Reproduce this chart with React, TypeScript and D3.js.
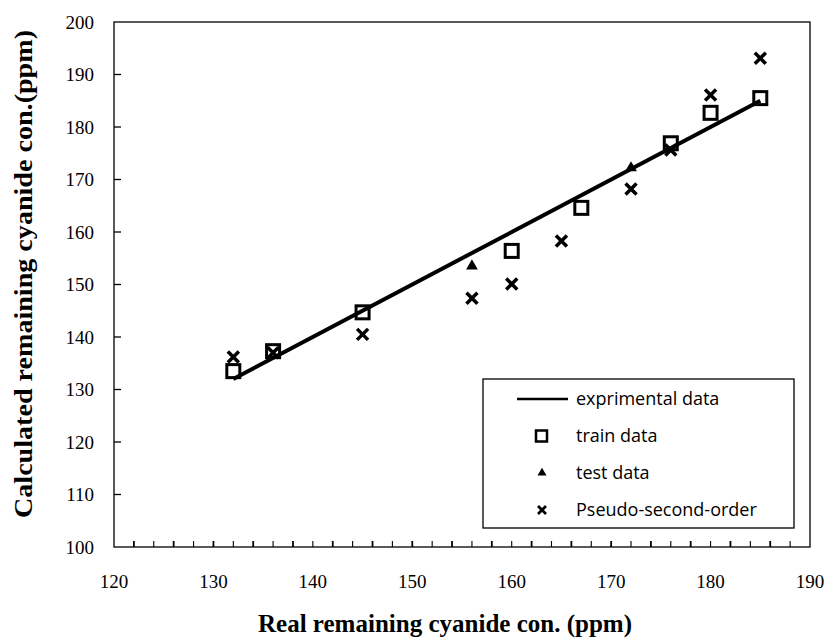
import { useRef, useEffect } from 'react';
import * as d3 from 'd3';

const trainX = [132, 136, 145, 160, 167, 176, 180, 185];
const trainY = [133.5, 137.3, 144.7, 156.4, 164.6, 176.9, 182.7, 185.5];
const testX = [156, 172];
const testY = [153.5, 172.2];
const pseudoX = [132, 136, 145, 156, 160, 165, 172, 176, 180, 185];
const pseudoY = [136.2, 137, 140.5, 147.4, 150.1, 158.3, 168.2, 175.6, 186.1, 193.1];
const lineX = [132, 185];
const lineY = [132, 185];
const xTicks = [120, 130, 140, 150, 160, 170, 180, 190];
const yTicks = [100, 110, 120, 130, 140, 150, 160, 170, 180, 190, 200];
const legendLabels = ['exprimental data', 'train data', 'test data', 'Pseudo-second-order'];

export default function App() {
  const svgRef = useRef<SVGSVGElement | null>(null);

  useEffect(() => {
    if (!svgRef.current) return;
    const svg = d3.select(svgRef.current);
    svg.selectAll('*').remove();

    const width = 828;
    const height = 638;
    const margin = { top: 22, right: 18, bottom: 91, left: 114 };

    const x = d3.scaleLinear().domain([120, 190]).range([margin.left, width - margin.right]);
    const y = d3.scaleLinear().domain([100, 200]).range([height - margin.bottom, margin.top]);

    svg.append('rect').attr('width', width).attr('height', height).attr('fill', '#fff');

    // frame
    svg.append('rect')
      .attr('x', x(120)).attr('y', y(200))
      .attr('width', x(190) - x(120)).attr('height', y(100) - y(200))
      .attr('fill', 'none').attr('stroke', '#000').attr('stroke-width', 1.3);

    // x ticks (inside, every 2)
    const xMinor = d3.range(122, 190, 2);
    svg.append('g').selectAll('line').data(xMinor).join('line')
      .attr('x1', d => x(d)).attr('x2', d => x(d))
      .attr('y1', y(100)).attr('y2', y(100) - 6)
      .attr('stroke', '#000').attr('stroke-width', d => (d % 4 === 2 ? 1.8 : 1.1));

    svg.append('g').selectAll('text').data(xTicks).join('text')
      .attr('x', d => x(d)).attr('y', y(100) + 41)
      .attr('text-anchor', 'middle')
      .attr('font-family', 'Liberation Serif, serif').attr('font-size', 19)
      .text(d => d);

    // y ticks
    svg.append('g').selectAll('line').data(yTicks.slice(1, -1)).join('line')
      .attr('x1', x(120)).attr('x2', x(120) + 7)
      .attr('y1', d => y(d)).attr('y2', d => y(d))
      .attr('stroke', '#000').attr('stroke-width', 1.3);

    svg.append('g').selectAll('text').data(yTicks).join('text')
      .attr('x', x(120) - 20).attr('y', d => y(d)).attr('dy', '0.35em')
      .attr('text-anchor', 'end')
      .attr('font-family', 'Liberation Serif, serif').attr('font-size', 19)
      .text(d => d);

    // axis titles
    svg.append('text')
      .attr('x', 445).attr('y', 632)
      .attr('text-anchor', 'middle')
      .attr('font-family', 'Liberation Serif, serif').attr('font-weight', 'bold').attr('font-size', 25)
      .attr('textLength', 374).attr('lengthAdjust', 'spacingAndGlyphs')
      .text('Real remaining cyanide con. (ppm)');

    svg.append('text')
      .attr('transform', `translate(32,${274}) rotate(-90)`)
      .attr('text-anchor', 'middle')
      .attr('font-family', 'Liberation Serif, serif').attr('font-weight', 'bold').attr('font-size', 26)
      .attr('textLength', 488).attr('lengthAdjust', 'spacingAndGlyphs')
      .text('Calculated remaining cyanide con.(ppm)');

    // experimental line
    const line = d3.line<number>().x((d, i) => x(lineX[i])).y((d, i) => y(lineY[i]));
    svg.append('path').attr('d', line(lineX)).attr('stroke', '#000').attr('stroke-width', 4).attr('fill', 'none');

    const plot = svg.append('g');

    // train squares
    plot.selectAll('.sq').data(trainX).join('rect')
      .attr('x', (d) => x(d) - 6.5).attr('y', (d, i) => y(trainY[i]) - 6.5)
      .attr('width', 13).attr('height', 13)
      .attr('fill', 'none').attr('stroke', '#000').attr('stroke-width', 3);

    // test triangles
    const tri = d3.symbol().type(d3.symbolTriangle).size(60);
    plot.selectAll('.tri').data(testX).join('path')
      .attr('transform', (d, i) => `translate(${x(d)},${y(testY[i])})`)
      .attr('d', tri()).attr('fill', '#000');

    // pseudo crosses
    const cross = (cx: number, cy: number, r: number) => `M${cx - r},${cy - r}L${cx + r},${cy + r}M${cx - r},${cy + r}L${cx + r},${cy - r}`;
    plot.selectAll('.x').data(pseudoX).join('path')
      .attr('d', (d, i) => cross(x(d), y(pseudoY[i]), 5.5))
      .attr('stroke', '#000').attr('stroke-width', 3.5).attr('fill', 'none');

    // legend
    const lg = svg.append('g');
    lg.append('rect').attr('x', 483).attr('y', 379).attr('width', 311).attr('height', 149)
      .attr('fill', '#fff').attr('stroke', '#000').attr('stroke-width', 1.3);
    const rowY = [399, 436, 473, 510];
    lg.selectAll('text').data(legendLabels).join('text')
      .attr('x', 576).attr('y', (d, i) => rowY[i]).attr('dy', '0.35em')
      .attr('font-family', 'Open Sans, sans-serif').attr('font-size', 18)
      .text(d => d);
    lg.append('line').attr('x1', 517).attr('x2', 568).attr('y1', rowY[0]).attr('y2', rowY[0])
      .attr('stroke', '#000').attr('stroke-width', 2.5);
    lg.append('rect').attr('x', 536).attr('y', rowY[1] - 5.5).attr('width', 11).attr('height', 11)
      .attr('fill', 'none').attr('stroke', '#000').attr('stroke-width', 2.5);
    lg.append('path').attr('transform', `translate(542,${rowY[2]})`)
      .attr('d', d3.symbol().type(d3.symbolTriangle).size(35)()).attr('fill', '#000');
    lg.append('path').attr('d', cross(542, rowY[3], 4)).attr('stroke', '#000').attr('stroke-width', 2.8);
  }, []);

  return (
    <div style={{ position: 'absolute', left: 0, top: 0 }}>
      <svg ref={svgRef} width={828} height={638} style={{ display: 'block' }} />
    </div>
  );
}
